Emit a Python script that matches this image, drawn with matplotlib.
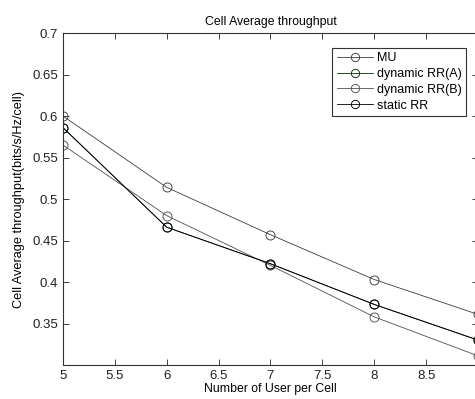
import matplotlib
matplotlib.use("Agg")
import matplotlib.pyplot as plt

plt.rcParams['font.family'] = ['Liberation Sans', 'DejaVu Sans']

users = [5, 6, 7, 8, 9]
mu = [0.600, 0.514, 0.457, 0.403, 0.361]
dyn_a = [0.586, 0.466, 0.422, 0.373, 0.330]
dyn_b = [0.565, 0.480, 0.420, 0.358, 0.311]
static_rr = [0.586, 0.466, 0.422, 0.373, 0.330]

series = [
    ("MU", mu, "#3c3c3c"),
    ("dynamic RR(A)", dyn_a, "#0b2a0b"),
    ("dynamic RR(B)", dyn_b, "#505050"),
    ("static RR", static_rr, "#000000"),
]

x_ticks = [5, 5.5, 6, 6.5, 7, 7.5, 8, 8.5, 9]
x_tick_labels = ["5", "5.5", "6", "6.5", "7", "7.5", "8", "8.5", ""]
y_ticks = [0.35, 0.4, 0.45, 0.5, 0.55, 0.6, 0.65, 0.7]

fig = plt.figure(figsize=(4.75, 3.99), dpi=100)
ax = fig.add_axes([0.1326, 0.0852, 0.8737, 0.832])

for label, vals, color in series:
    ax.plot(users, vals, color=color, lw=0.6, marker='o', markersize=6.5,
            markerfacecolor='none', markeredgecolor=color, markeredgewidth=0.65,
            label=label)

ax.set_xlim(5, 9)
ax.set_ylim(0.3, 0.7)
ax.set_xticks(x_ticks)
ax.set_xticklabels(x_tick_labels)
ax.set_yticks(y_ticks)
ax.set_yticklabels([f"{t:g}" for t in y_ticks])
ax.tick_params(direction='in', top=True, right=True, labelsize=9.5, length=4,
               width=0.6, colors='#222222')
for sp in ax.spines.values():
    sp.set_linewidth(0.8)
    sp.set_color('#333333')

ax.set_title("Cell Average throughput", fontsize=8.8, pad=6)
ax.set_xlabel("Number of User per Cell", fontsize=8.8, labelpad=1)
ax.set_ylabel("Cell Average throughput(bits/s/Hz/cell)", fontsize=9.2, labelpad=5)

leg = ax.legend(loc='upper right', bbox_to_anchor=(0.971, 0.955),
                borderaxespad=0, fancybox=False, framealpha=1,
                edgecolor='#333333', fontsize=9, handlelength=2.9,
                handletextpad=0.3, labelspacing=0.3, borderpad=0.35)
leg.get_frame().set_linewidth(0.8)
for h in leg.legend_handles:
    h.set_markersize(6)

fig.savefig("out.png", dpi=100)
